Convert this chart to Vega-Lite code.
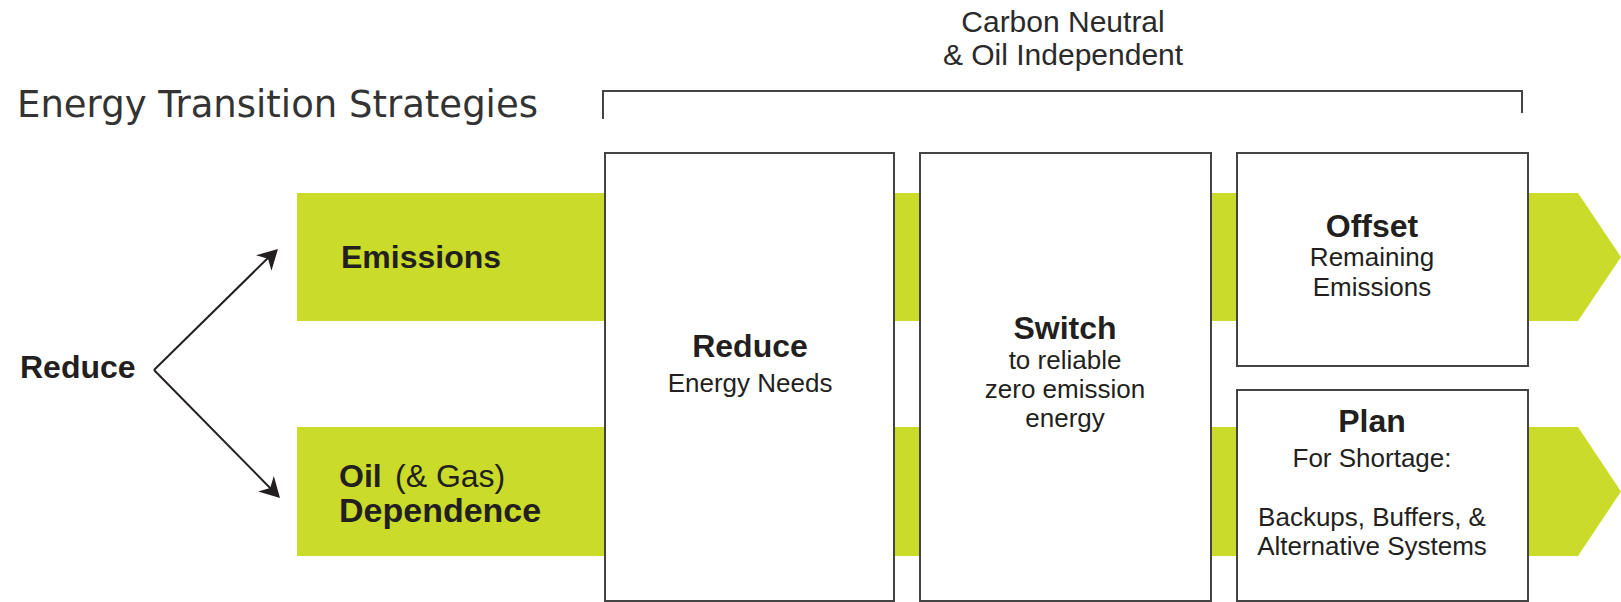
{
  "$schema": "https://vega.github.io/schema/vega-lite/v6.json",
  "width": 1621,
  "height": 602,
  "padding": 0,
  "autosize": {"type": "fit", "contains": "padding"},
  "background": "white",
  "config": {"view": {"stroke": null}, "axis": {"disable": true}},
  "layer": [
    {
      "data": {"values": [
        {"band": "Emissions", "x": 297, "y": 193, "y2": 321},
        {"band": "Emissions", "x": 1578, "y": 193, "y2": 321},
        {"band": "Emissions", "x": 1621, "y": 257, "y2": 257},
        {"band": "Oil", "x": 297, "y": 427, "y2": 556},
        {"band": "Oil", "x": 1578, "y": 427, "y2": 556},
        {"band": "Oil", "x": 1621, "y": 491.5, "y2": 491.5}
      ]},
      "mark": {"type": "area", "orient": "vertical", "color": "#CBDB2A", "opacity": 1},
      "encoding": {
        "x": {"field": "x", "type": "quantitative", "scale": {"domain": [0, 1621], "nice": false, "zero": false}},
        "y": {"field": "y", "type": "quantitative", "scale": {"domain": [0, 602], "nice": false, "zero": false, "reverse": true}},
        "y2": {"field": "y2"},
        "detail": {"field": "band"}
      }
    },
    {
      "data": {"values": [
        {"box": "Reduce", "x": 605, "x2": 894, "y": 153, "y2": 601},
        {"box": "Switch", "x": 920, "x2": 1211, "y": 153, "y2": 601},
        {"box": "Offset", "x": 1237, "x2": 1528, "y": 153, "y2": 366},
        {"box": "Plan", "x": 1237, "x2": 1528, "y": 390, "y2": 601}
      ]},
      "mark": {"type": "rect", "fill": "white", "stroke": "#444444", "strokeWidth": 2},
      "encoding": {
        "x": {"field": "x", "type": "quantitative", "scale": {"domain": [0, 1621], "nice": false, "zero": false}},
        "x2": {"field": "x2"},
        "y": {"field": "y", "type": "quantitative", "scale": {"domain": [0, 602], "nice": false, "zero": false, "reverse": true}},
        "y2": {"field": "y2"}
      }
    },
    {
      "data": {"values": [
        {"o": 0, "x": 603, "y": 119},
        {"o": 1, "x": 603, "y": 91},
        {"o": 2, "x": 1522, "y": 91},
        {"o": 3, "x": 1522, "y": 113}
      ]},
      "mark": {"type": "line", "color": "#444444", "strokeWidth": 2},
      "encoding": {
        "x": {"field": "x", "type": "quantitative", "scale": {"domain": [0, 1621], "nice": false, "zero": false}},
        "y": {"field": "y", "type": "quantitative", "scale": {"domain": [0, 602], "nice": false, "zero": false, "reverse": true}},
        "order": {"field": "o"}
      }
    },
    {
      "data": {"values": [
        {"a": "up", "o": 0, "x": 154, "y": 370},
        {"a": "up", "o": 1, "x": 272, "y": 254},
        {"a": "down", "o": 0, "x": 154, "y": 370},
        {"a": "down", "o": 1, "x": 275, "y": 493}
      ]},
      "mark": {"type": "line", "color": "#231F20", "strokeWidth": 2},
      "encoding": {
        "x": {"field": "x", "type": "quantitative", "scale": {"domain": [0, 1621], "nice": false, "zero": false}},
        "y": {"field": "y", "type": "quantitative", "scale": {"domain": [0, 602], "nice": false, "zero": false, "reverse": true}},
        "detail": {"field": "a"},
        "order": {"field": "o"}
      }
    },
    {
      "data": {"values": [{"x": 278, "y": 249}]},
      "mark": {"type": "point", "shape": "M0,0L0.55,1L0,0.7L-0.55,1Z", "filled": true, "color": "#231F20", "opacity": 1, "size": 1600, "angle": 45.5},
      "encoding": {
        "x": {"field": "x", "type": "quantitative", "scale": {"domain": [0, 1621], "nice": false, "zero": false}},
        "y": {"field": "y", "type": "quantitative", "scale": {"domain": [0, 602], "nice": false, "zero": false, "reverse": true}}
      }
    },
    {
      "data": {"values": [{"x": 280, "y": 498}]},
      "mark": {"type": "point", "shape": "M0,0L0.55,1L0,0.7L-0.55,1Z", "filled": true, "color": "#231F20", "opacity": 1, "size": 1600, "angle": 135.5},
      "encoding": {
        "x": {"field": "x", "type": "quantitative", "scale": {"domain": [0, 1621], "nice": false, "zero": false}},
        "y": {"field": "y", "type": "quantitative", "scale": {"domain": [0, 602], "nice": false, "zero": false, "reverse": true}}
      }
    },
    {
      "data": {"values": [{"t": "Energy Transition Strategies", "x": 17, "y": 117}]},
      "mark": {"type": "text", "align": "left", "baseline": "alphabetic", "font": "DejaVu Sans", "fontSize": 37, "fontWeight": "normal", "color": "#333333"},
      "encoding": {
        "x": {"field": "x", "type": "quantitative", "scale": {"domain": [0, 1621], "nice": false, "zero": false}},
        "y": {"field": "y", "type": "quantitative", "scale": {"domain": [0, 602], "nice": false, "zero": false, "reverse": true}},
        "text": {"field": "t"}
      }
    },
    {
      "data": {"values": [
        {"t": "Carbon Neutral", "x": 1063, "y": 32},
        {"t": "& Oil Independent", "x": 1063, "y": 65}
      ]},
      "mark": {"type": "text", "align": "center", "baseline": "alphabetic", "font": "Liberation Sans", "fontSize": 30, "color": "#2a2a2a"},
      "encoding": {
        "x": {"field": "x", "type": "quantitative", "scale": {"domain": [0, 1621], "nice": false, "zero": false}},
        "y": {"field": "y", "type": "quantitative", "scale": {"domain": [0, 602], "nice": false, "zero": false, "reverse": true}},
        "text": {"field": "t"}
      }
    },
    {
      "data": {"values": [
        {"t": "Emissions", "x": 341, "y": 268},
        {"t": "Oil", "x": 339, "y": 487},
        {"t": "Reduce", "x": 20, "y": 378}
      ]},
      "mark": {"type": "text", "align": "left", "baseline": "alphabetic", "font": "Liberation Sans", "fontSize": 32, "fontWeight": "bold", "color": "#231F20"},
      "encoding": {
        "x": {"field": "x", "type": "quantitative", "scale": {"domain": [0, 1621], "nice": false, "zero": false}},
        "y": {"field": "y", "type": "quantitative", "scale": {"domain": [0, 602], "nice": false, "zero": false, "reverse": true}},
        "text": {"field": "t"}
      }
    },
    {
      "data": {"values": [{"t": "Dependence", "x": 339, "y": 522}]},
      "mark": {"type": "text", "align": "left", "baseline": "alphabetic", "font": "Liberation Sans", "fontSize": 34, "fontWeight": "bold", "color": "#231F20"},
      "encoding": {
        "x": {"field": "x", "type": "quantitative", "scale": {"domain": [0, 1621], "nice": false, "zero": false}},
        "y": {"field": "y", "type": "quantitative", "scale": {"domain": [0, 602], "nice": false, "zero": false, "reverse": true}},
        "text": {"field": "t"}
      }
    },
    {
      "data": {"values": [{"t": "(& Gas)", "x": 395, "y": 487}]},
      "mark": {"type": "text", "align": "left", "baseline": "alphabetic", "font": "Liberation Sans", "fontSize": 32, "fontWeight": "normal", "color": "#231F20"},
      "encoding": {
        "x": {"field": "x", "type": "quantitative", "scale": {"domain": [0, 1621], "nice": false, "zero": false}},
        "y": {"field": "y", "type": "quantitative", "scale": {"domain": [0, 602], "nice": false, "zero": false, "reverse": true}},
        "text": {"field": "t"}
      }
    },
    {
      "data": {"values": [
        {"t": "Reduce", "x": 750, "y": 357},
        {"t": "Switch", "x": 1065, "y": 339},
        {"t": "Offset", "x": 1372, "y": 237},
        {"t": "Plan", "x": 1372, "y": 432}
      ]},
      "mark": {"type": "text", "align": "center", "baseline": "alphabetic", "font": "Liberation Sans", "fontSize": 32, "fontWeight": "bold", "color": "#231F20"},
      "encoding": {
        "x": {"field": "x", "type": "quantitative", "scale": {"domain": [0, 1621], "nice": false, "zero": false}},
        "y": {"field": "y", "type": "quantitative", "scale": {"domain": [0, 602], "nice": false, "zero": false, "reverse": true}},
        "text": {"field": "t"}
      }
    },
    {
      "data": {"values": [
        {"t": "Energy Needs", "x": 750, "y": 392},
        {"t": "to reliable", "x": 1065, "y": 369},
        {"t": "zero emission", "x": 1065, "y": 398},
        {"t": "energy", "x": 1065, "y": 427},
        {"t": "Remaining", "x": 1372, "y": 266},
        {"t": "Emissions", "x": 1372, "y": 296},
        {"t": "For Shortage:", "x": 1372, "y": 467},
        {"t": "Backups, Buffers, &", "x": 1372, "y": 526},
        {"t": "Alternative Systems", "x": 1372, "y": 555}
      ]},
      "mark": {"type": "text", "align": "center", "baseline": "alphabetic", "font": "Liberation Sans", "fontSize": 26, "fontWeight": "normal", "color": "#231F20"},
      "encoding": {
        "x": {"field": "x", "type": "quantitative", "scale": {"domain": [0, 1621], "nice": false, "zero": false}},
        "y": {"field": "y", "type": "quantitative", "scale": {"domain": [0, 602], "nice": false, "zero": false, "reverse": true}},
        "text": {"field": "t"}
      }
    }
  ]
}
